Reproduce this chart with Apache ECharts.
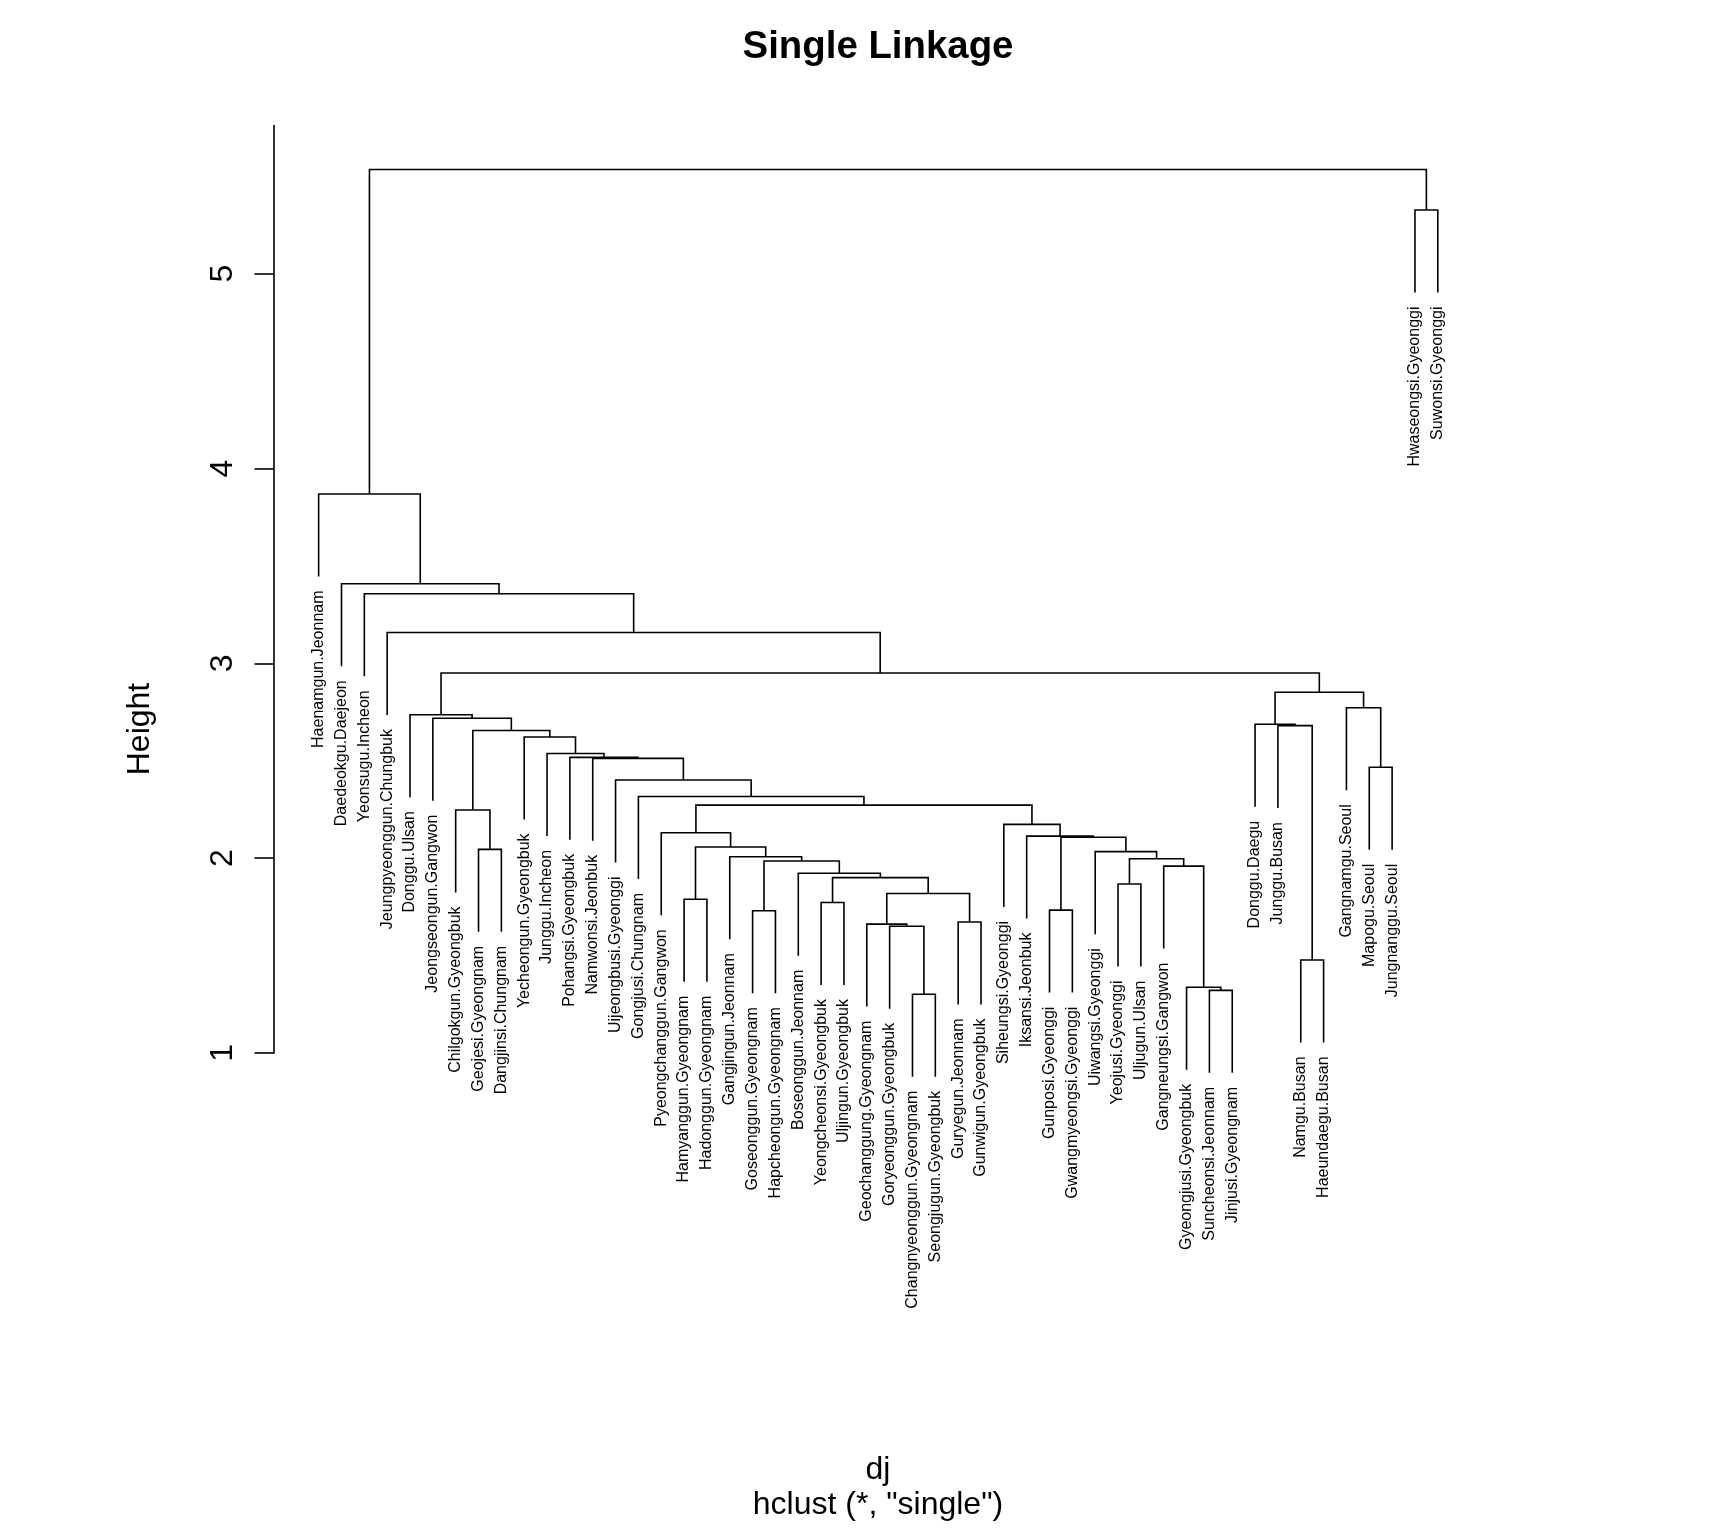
<!DOCTYPE html>
<html>
<head>
<meta charset="utf-8">
<script src="https://cdn.jsdelivr.net/npm/echarts@6/dist/echarts.min.js"></script>
<style>
  html, body { margin: 0; padding: 0; background: #fff; }
  #chart { width: 1732px; height: 1530px; }
</style>
</head>
<body>
<div id="chart"></div>
<script>
// Leaf labels in dendrogram display order (position 1..50)
const leafLabels = [
  "Haenamgun.Jeonnam", "Daedeokgu.Daejeon", "Yeonsugu.Incheon", "Jeungpyeonggun.Chungbuk",
  "Donggu.Ulsan", "Jeongseongun.Gangwon", "Chilgokgun.Gyeongbuk", "Geojesi.Gyeongnam",
  "Dangjinsi.Chungnam", "Yecheongun.Gyeongbuk", "Junggu.Incheon", "Pohangsi.Gyeongbuk",
  "Namwonsi.Jeonbuk", "Uijeongbusi.Gyeonggi", "Gongjusi.Chungnam", "Pyeongchanggun.Gangwon",
  "Hamyanggun.Gyeongnam", "Hadonggun.Gyeongnam", "Gangjingun.Jeonnam", "Goseonggun.Gyeongnam",
  "Hapcheongun.Gyeongnam", "Boseonggun.Jeonnam", "Yeongcheonsi.Gyeongbuk", "Uljingun.Gyeongbuk",
  "Geochanggung.Gyeongnam", "Goryeonggun.Gyeongbuk", "Changnyeonggun.Gyeongnam", "Seongjugun.Gyeongbuk",
  "Guryegun.Jeonnam", "Gunwigun.Gyeongbuk", "Siheungsi.Gyeonggi", "Iksansi.Jeonbuk",
  "Gunposi.Gyeonggi", "Gwangmyeongsi.Gyeonggi", "Uiwangsi.Gyeonggi", "Yeojusi.Gyeonggi",
  "Uljugun.Ulsan", "Gangneungsi.Gangwon", "Gyeongjusi.Gyeongbuk", "Suncheonsi.Jeonnam",
  "Jinjusi.Gyeongnam", "Donggu.Daegu", "Junggu.Busan", "Namgu.Busan",
  "Haeundaegu.Busan", "Gangnamgu.Seoul", "Mapogu.Seoul", "Jungnanggu.Seoul",
  "Hwaseongsi.Gyeonggi", "Suwonsi.Gyeonggi"
];

// hclust-style merge table: negative = leaf position, positive = earlier merge row (1-based)
const mergeLeft  = [-27,-40,-39,-44,-26,-25,-29,-20,-33,-23,-17, 6,-36,10,-22,-38, 8,13,-19,-35,-8,11, 9,-32,-16,-31,-7,25,-15,-14,-47,-13,-12,-11,-10,27,-43,-42,-6,-5,-46,38,40,-4,-3,-2,-1,-49,47];
const mergeRight = [-28,-41,  2,-45,  1,  5,-30,-21,-34,-24,-18, 7,-37,12, 14,  3,15,16, 17, 18,-9,19,20, 23, 22, 24,21,26, 28, 29,-48, 30, 32, 33, 34,35,  4, 37,36,39, 31,41,42,43,44,45,46,-50,48];
const mergeHeight = [1.301,1.321,1.337,1.477,1.650,1.661,1.672,1.730,1.733,1.772,1.789,1.818,1.867,1.900,1.922,1.959,1.985,1.997,2.007,2.033,2.045,2.057,2.107,2.113,2.130,2.173,2.247,2.272,2.316,2.401,2.466,2.512,2.517,2.537,2.622,2.655,2.680,2.687,2.718,2.736,2.772,2.851,2.950,3.158,3.357,3.408,3.869,5.327,5.535];

const yTickValues = [1, 2, 3, 4, 5];
const yTickLabels = ["1", "2", "3", "4", "5"];

// ---- dendrogram layout (positions derived from the merge table) ----
const hMax = Math.max(...mergeHeight), hMin = Math.min(...mergeHeight);
const hang = 0.1 * (hMax - hMin);
const nodeX = [];
function childX(c) { return c < 0 ? -c : nodeX[c - 1]; }
function childTop(c, parentH) { return c < 0 ? parentH - hang : mergeHeight[c - 1]; }
const linkData = [];
const leafEnd = new Array(leafLabels.length).fill(0);
for (let m = 0; m < mergeHeight.length; m++) {
  const l = mergeLeft[m], r = mergeRight[m], h = mergeHeight[m];
  const xl = childX(l), xr = childX(r);
  nodeX[m] = (xl + xr) / 2;
  linkData.push([xl, childTop(l, h), xr, childTop(r, h), h]);
  if (l < 0) leafEnd[-l - 1] = h - hang;
  if (r < 0) leafEnd[-r - 1] = h - hang;
}
const leafData = leafLabels.map((name, i) => [i + 1, leafEnd[i]]);

const FONT = "'Liberation Sans', Arial, Helvetica, sans-serif";
const chart = echarts.init(document.getElementById('chart'), null, { renderer: 'canvas' });

chart.setOption({
  backgroundColor: '#ffffff',
  animation: false,
  grid: { left: 274, right: 271.36, top: 125.65, bottom: 477.1, containLabel: false },
  xAxis: { type: 'value', min: -0.9545, max: leafLabels.length + 1, show: false },
  yAxis: {
    type: 'value', min: 1, max: 5.76,
    axisLine: { show: true, onZero: false, lineStyle: { color: '#000', width: 1.6 } },
    axisTick: { show: true, length: 19.5, customValues: yTickValues, lineStyle: { color: '#000', width: 1.6 } },
    axisLabel: {
      show: true, rotate: 90, margin: 35, customValues: yTickValues,
      formatter: v => yTickLabels[yTickValues.indexOf(v)] ?? '',
      fontSize: 32, fontFamily: FONT, color: '#000'
    },
    splitLine: { show: false }
  },
  graphic: [
    { type: 'text', x: 878, y: 47.4, style: { text: 'Single Linkage', font: "bold 38.4px " + FONT, fill: '#000', align: 'center', verticalAlign: 'middle' } },
    { type: 'text', x: 140.6, y: 729, rotation: Math.PI / 2, style: { text: 'Height', font: "32px " + FONT, fill: '#000', align: 'center', verticalAlign: 'middle' } },
    { type: 'text', x: 878, y: 1470.6, style: { text: 'dj', font: "32px " + FONT, fill: '#000', align: 'center', verticalAlign: 'middle' } },
    { type: 'text', x: 878, y: 1505.6, style: { text: 'hclust (*, "single")', font: "32px " + FONT, fill: '#000', align: 'center', verticalAlign: 'middle' } }
  ],
  series: [
    {
      type: 'custom', name: 'links', clip: false, silent: true,
      data: linkData,
      renderItem: function (params, api) {
        const p1 = api.coord([api.value(0), api.value(1)]);
        const p2 = api.coord([api.value(0), api.value(4)]);
        const p3 = api.coord([api.value(2), api.value(4)]);
        const p4 = api.coord([api.value(2), api.value(3)]);
        return { type: 'polyline', shape: { points: [p1, p2, p3, p4] }, style: { stroke: '#000', lineWidth: 1.6, fill: null } };
      }
    },
    {
      type: 'custom', name: 'leaves', clip: false, silent: true,
      data: leafData,
      renderItem: function (params, api) {
        const p = api.coord([api.value(0), api.value(1)]);
        return {
          type: 'text', x: p[0], y: p[1] + 14, rotation: Math.PI / 2,
          style: { text: leafLabels[params.dataIndex], font: "16px " + FONT, fill: '#000', align: 'right', verticalAlign: 'middle' }
        };
      }
    }
  ]
});
</script>
</body>
</html>
